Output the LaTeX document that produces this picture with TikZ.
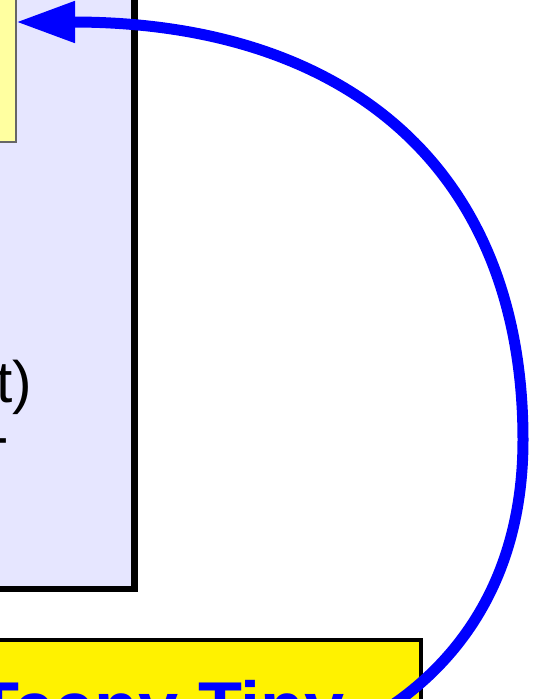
\documentclass[tikz,border=0pt]{standalone}
\usepackage{fontspec}
\setmainfont{Liberation Sans}
\usetikzlibrary{arrows.meta}
\definecolor{lav}{RGB}{230,230,255}
\definecolor{paleyel}{RGB}{255,255,160}
\definecolor{pureblue}{RGB}{0,0,255}
\begin{document}
\begin{tikzpicture}[x=1pt,y=-1pt,
  lavbox/.style={draw=black, line width=6.5pt, fill=lav, outer sep=0pt, inner sep=0pt},
  notebox/.style={draw=black!60, line width=1.5pt, fill=paleyel, outer sep=0pt, inner sep=0pt},
  labelbox/.style={draw=black, line width=3.5pt, fill=yellow, outer sep=0pt, inner sep=0pt},
  codetext/.style={font=\fontsize{58.5pt}{70pt}\selectfont, text=black, inner sep=0pt},
  labeltext/.style={font=\fontsize{72pt}{86pt}\selectfont\bfseries, text=pureblue, inner sep=0pt},
  link/.style={draw=pureblue, line width=11pt, -{Triangle[length=59pt,width=39pt]}}
]
\useasboundingbox (0,0) rectangle (535,699);
\fill[white] (0,0) rectangle (535,699);
\node[lavbox, minimum width=400pt, minimum height=700pt, anchor=south east] (frame) at (134.5,589) {};
\node[notebox, minimum width=200pt, minimum height=240pt, anchor=south east] (note) at (16,142) {};
\node[codetext, anchor=base east] (code1) at (32.3,402.7) {t)};
\node[codetext, anchor=base east] (code2) at (9.6,456) {-};
\node[labelbox, minimum width=700pt, minimum height=200pt, anchor=north east] (label) at (421,640) {};
\node[labeltext, anchor=base east] (tiny) at (345,732) {Teeny Tiny};
\draw[link] (tiny.base east) .. controls (425,695) and (523,610) .. (523,440) .. controls (523,168) and (346,22) .. (note.east);
\end{tikzpicture}
\end{document}
